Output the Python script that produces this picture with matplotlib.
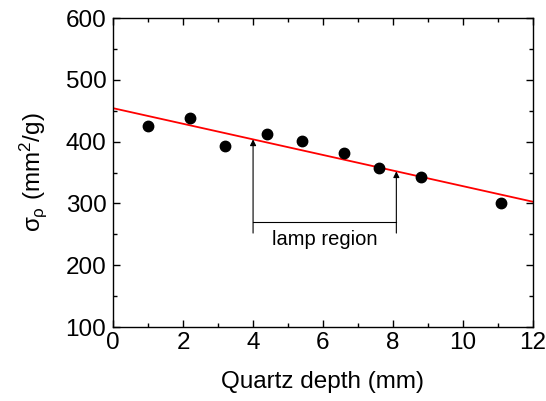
import numpy as np
import matplotlib
matplotlib.use("Agg")
import matplotlib.pyplot as plt
from matplotlib.ticker import MultipleLocator

plt.rcParams['font.family'] = ['Liberation Sans', 'DejaVu Sans']
plt.rcParams['mathtext.fontset'] = 'custom'
plt.rcParams['mathtext.rm'] = 'Liberation Sans'
plt.rcParams['mathtext.it'] = 'Liberation Sans'

# measured points
depth = [1.0, 2.2, 3.2, 4.4, 5.4, 6.6, 7.6, 8.8, 11.1]
sigma = [425, 439, 393, 413, 401, 381, 358, 343, 301]

# linear fit
fit_b = 454.0
fit_m = -12.6

# lamp region markers
lamp_x0, lamp_x1 = 4.0, 8.1
lamp_ybase = 252
lamp_ybar = 270

fig = plt.figure(figsize=(5.46, 4.01), dpi=100)
ax = fig.add_axes([0.2075, 0.1845, 0.768, 0.7706])

xx = np.array([0, 12])
ax.plot(xx, fit_b + fit_m*xx, 'r-', lw=1.3, zorder=2)
ax.plot(depth, sigma, 'ko', ms=7.5, zorder=3)

for x0 in (lamp_x0, lamp_x1):
    ytop = fit_b + fit_m*x0
    ax.annotate('', xy=(x0, ytop), xytext=(x0, lamp_ybase),
                arrowprops=dict(arrowstyle='-|>', color='k', lw=0.8,
                                mutation_scale=9, shrinkA=0, shrinkB=0))
ax.plot([lamp_x0, lamp_x1], [lamp_ybar, lamp_ybar], 'k-', lw=0.8)
ax.text((lamp_x0 + lamp_x1)/2, 241, 'lamp region', ha='center', va='center', fontsize=14.5)

ax.set_xlim(0, 12)
ax.set_ylim(100, 600)
ax.xaxis.set_major_locator(MultipleLocator(2))
ax.xaxis.set_minor_locator(MultipleLocator(1))
ax.yaxis.set_major_locator(MultipleLocator(100))
ax.yaxis.set_minor_locator(MultipleLocator(50))
ax.tick_params(which='both', direction='in', top=True, right=True, labelsize=17.5, width=1)
ax.tick_params(which='major', length=5)
ax.tick_params(which='minor', length=3)
ax.tick_params(axis='y', pad=5)
for s in ax.spines.values():
    s.set_linewidth(1)

ax.set_xlabel('Quartz depth (mm)', fontsize=17.5, labelpad=12)
ax.set_ylabel(r'$\sigma_\rho$ (mm$^2$/g)', fontsize=17.5, labelpad=12)

fig.savefig('out.png', dpi=100)
